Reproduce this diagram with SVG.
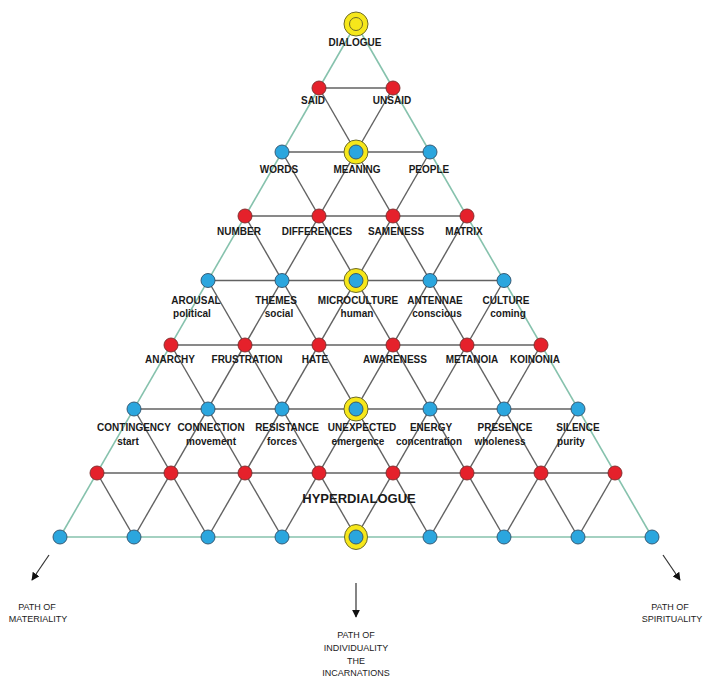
<svg xmlns="http://www.w3.org/2000/svg" width="706" height="678" viewBox="0 0 706 678">
<defs>
<style>
.g{stroke:#626262;stroke-width:1.4;fill:none}
.t{stroke:#86c2ad;stroke-width:1.6;fill:none}
.a{stroke:#333;stroke-width:1.2;fill:none}
.r{fill:#e5212b;stroke:#7a2a2a;stroke-width:0.9}
.b{fill:#2ba6de;stroke:#30506a;stroke-width:0.9}
.y{fill:#f6e71b;stroke:#6d6a2a;stroke-width:1}
.l{font-family:"Liberation Sans",Arial,sans-serif;font-weight:bold;font-size:10px;fill:#1a1a1a;text-anchor:middle}
.p{font-family:"Liberation Sans",Arial,sans-serif;font-size:9px;fill:#222;text-anchor:middle}
</style>
<marker id="ah" viewBox="0 0 10 10" refX="9" refY="5" markerWidth="8" markerHeight="8" markerUnits="userSpaceOnUse" orient="auto">
<path d="M0,0 L10,5 L0,10 z" fill="#111"/>
</marker>
</defs>
<rect width="706" height="678" fill="#fff"/>
<g id="connectors">
<line class="g" x1="319" y1="88" x2="393" y2="88"/>
<line class="g" x1="282" y1="152" x2="430" y2="152"/>
<line class="g" x1="245" y1="216" x2="467" y2="216"/>
<line class="g" x1="208" y1="280.5" x2="504" y2="280.5"/>
<line class="g" x1="171" y1="345" x2="541" y2="345"/>
<line class="g" x1="134" y1="409" x2="578" y2="409"/>
<line class="g" x1="97" y1="473" x2="615" y2="473"/>
<line class="g" x1="393" y1="88" x2="134" y2="537"/>
<line class="g" x1="430" y1="152" x2="208" y2="537"/>
<line class="g" x1="467" y1="216" x2="282" y2="537"/>
<line class="g" x1="504" y1="280.5" x2="356" y2="537"/>
<line class="g" x1="541" y1="345" x2="430" y2="537"/>
<line class="g" x1="578" y1="409" x2="504" y2="537"/>
<line class="g" x1="615" y1="473" x2="578" y2="537"/>
<line class="g" x1="319" y1="88" x2="578" y2="537"/>
<line class="g" x1="282" y1="152" x2="504" y2="537"/>
<line class="g" x1="245" y1="216" x2="430" y2="537"/>
<line class="g" x1="208" y1="280.5" x2="356" y2="537"/>
<line class="g" x1="171" y1="345" x2="282" y2="537"/>
<line class="g" x1="134" y1="409" x2="208" y2="537"/>
<line class="g" x1="97" y1="473" x2="134" y2="537"/>
<line class="t" x1="356" y1="24" x2="60" y2="537"/>
<line class="t" x1="356" y1="24" x2="652" y2="537"/>
<line class="t" x1="60" y1="537" x2="652" y2="537"/>
<line class="a" x1="49" y1="555" x2="32" y2="580" marker-end="url(#ah)"/>
<line class="a" x1="356" y1="583" x2="356" y2="617" marker-end="url(#ah)"/>
<line class="a" x1="663" y1="555" x2="680" y2="580" marker-end="url(#ah)"/>
</g>
<g id="dialogue"><circle class="y" cx="356" cy="24" r="12"/><circle class="y" cx="356" cy="24" r="6.5"/><text class="l" x="355" y="46">DIALOGUE</text></g>
<g id="said"><circle class="r" cx="319" cy="88" r="7"/><text class="l" x="313" y="104">SAID</text></g>
<g id="unsaid"><circle class="r" cx="393" cy="88" r="7"/><text class="l" x="392" y="104">UNSAID</text></g>
<g id="words"><circle class="b" cx="282" cy="152" r="7"/><text class="l" x="279" y="173">WORDS</text></g>
<g id="meaning"><circle class="y" cx="356" cy="152" r="12"/><circle class="b" cx="356" cy="152" r="7"/><text class="l" x="357" y="173">MEANING</text></g>
<g id="people"><circle class="b" cx="430" cy="152" r="7"/><text class="l" x="429" y="173">PEOPLE</text></g>
<g id="number"><circle class="r" cx="245" cy="216" r="7"/><text class="l" x="239" y="235">NUMBER</text></g>
<g id="differences"><circle class="r" cx="319" cy="216" r="7"/><text class="l" x="317" y="235">DIFFERENCES</text></g>
<g id="sameness"><circle class="r" cx="393" cy="216" r="7"/><text class="l" x="396" y="235">SAMENESS</text></g>
<g id="matrix"><circle class="r" cx="467" cy="216" r="7"/><text class="l" x="464" y="235">MATRIX</text></g>
<g id="arousal"><circle class="b" cx="208" cy="280.5" r="7"/><text class="l" x="196" y="304">AROUSAL</text><text class="l" x="192" y="317">political</text></g>
<g id="themes"><circle class="b" cx="282" cy="280.5" r="7"/><text class="l" x="276" y="304">THEMES</text><text class="l" x="279" y="317">social</text></g>
<g id="microculture"><circle class="y" cx="356" cy="280.5" r="12"/><circle class="b" cx="356" cy="280.5" r="7"/><text class="l" x="358" y="304">MICROCULTURE</text><text class="l" x="357" y="317">human</text></g>
<g id="antennae"><circle class="b" cx="430" cy="280.5" r="7"/><text class="l" x="435" y="304">ANTENNAE</text><text class="l" x="437" y="317">conscious</text></g>
<g id="culture"><circle class="b" cx="504" cy="280.5" r="7"/><text class="l" x="506" y="304">CULTURE</text><text class="l" x="508" y="317">coming</text></g>
<g id="anarchy"><circle class="r" cx="171" cy="345" r="7"/><text class="l" x="170" y="363">ANARCHY</text></g>
<g id="frustration"><circle class="r" cx="245" cy="345" r="7"/><text class="l" x="247" y="363">FRUSTRATION</text></g>
<g id="hate"><circle class="r" cx="319" cy="345" r="7"/><text class="l" x="315" y="363">HATE</text></g>
<g id="awareness"><circle class="r" cx="393" cy="345" r="7"/><text class="l" x="395" y="363">AWARENESS</text></g>
<g id="metanoia"><circle class="r" cx="467" cy="345" r="7"/><text class="l" x="472" y="363">METANOIA</text></g>
<g id="koinonia"><circle class="r" cx="541" cy="345" r="7"/><text class="l" x="535" y="363">KOINONIA</text></g>
<g id="contingency"><circle class="b" cx="134" cy="409" r="7"/><text class="l" x="134" y="431">CONTINGENCY</text><text class="l" x="128" y="445">start</text></g>
<g id="connection"><circle class="b" cx="208" cy="409" r="7"/><text class="l" x="211" y="431">CONNECTION</text><text class="l" x="211" y="445">movement</text></g>
<g id="resistance"><circle class="b" cx="282" cy="409" r="7"/><text class="l" x="287" y="431">RESISTANCE</text><text class="l" x="282" y="445">forces</text></g>
<g id="unexpected"><circle class="y" cx="356" cy="409" r="12"/><circle class="b" cx="356" cy="409" r="7"/><text class="l" x="362" y="431">UNEXPECTED</text><text class="l" x="358" y="445">emergence</text></g>
<g id="energy"><circle class="b" cx="430" cy="409" r="7"/><text class="l" x="431" y="431">ENERGY</text><text class="l" x="429" y="445">concentration</text></g>
<g id="presence"><circle class="b" cx="504" cy="409" r="7"/><text class="l" x="505" y="431">PRESENCE</text><text class="l" x="500" y="445">wholeness</text></g>
<g id="silence"><circle class="b" cx="578" cy="409" r="7"/><text class="l" x="578" y="431">SILENCE</text><text class="l" x="571" y="445">purity</text></g>
<g id="row7">
<circle class="r" cx="97" cy="473" r="7"/><circle class="r" cx="171" cy="473" r="7"/><circle class="r" cx="245" cy="473" r="7"/><circle class="r" cx="319" cy="473" r="7"/><circle class="r" cx="393" cy="473" r="7"/><circle class="r" cx="467" cy="473" r="7"/><circle class="r" cx="541" cy="473" r="7"/><circle class="r" cx="615" cy="473" r="7"/>
</g>
<g id="row8">
<circle class="b" cx="60" cy="537" r="7"/><circle class="b" cx="134" cy="537" r="7"/><circle class="b" cx="208" cy="537" r="7"/><circle class="b" cx="282" cy="537" r="7"/><circle class="b" cx="430" cy="537" r="7"/><circle class="b" cx="504" cy="537" r="7"/><circle class="b" cx="578" cy="537" r="7"/><circle class="b" cx="652" cy="537" r="7"/>
</g>
<g id="hyperdialogue"><ellipse class="y" cx="356" cy="537" rx="11.5" ry="12.5"/><circle class="b" cx="356" cy="537" r="7"/><text class="l" x="359" y="503" style="font-size:13px">HYPERDIALOGUE</text></g>
<g id="labels">
<text class="p" x="37" y="610">PATH OF</text>
<text class="p" x="38" y="622">MATERIALITY</text>
<text class="p" x="670" y="610">PATH OF</text>
<text class="p" x="672" y="622">SPIRITUALITY</text>
<text class="p" x="356" y="638">PATH OF</text>
<text class="p" x="356" y="651">INDIVIDUALITY</text>
<text class="p" x="356" y="664">THE</text>
<text class="p" x="356" y="676">INCARNATIONS</text>
</g>
</svg>
